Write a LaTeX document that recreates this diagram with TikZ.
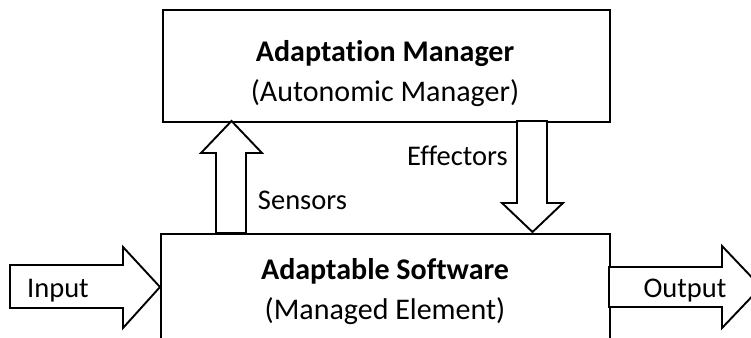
\documentclass[tikz,border=0pt]{standalone}
\usepackage{fontspec}
\setmainfont{Carlito}[Ligatures=NoCommon]
\usetikzlibrary{positioning}

\begin{document}
\begin{tikzpicture}[
    x=1pt,y=-1pt,
    every node/.style={font=\fontsize{30}{36}\selectfont,inner sep=0pt},
    box/.style={rectangle,draw,line width=1.9pt},
    blockarrow/.style={draw,line width=1.9pt,fill=white,line join=miter},
    lbl/.style={anchor=base,font=\fontsize{28.5}{34}\selectfont}
]
\clip (0,0) rectangle (751,337);

% Boxes (absolute positions, pixel grid)
\node[box,minimum width=447,minimum height=112,anchor=north west] (manager)  at (162,9)   {};
\node[box,minimum width=449,minimum height=150,anchor=north west] (software) at (160,233) {};

% Box texts
\node[anchor=base] (managertitle) at (385,61.5)  {\textbf{Adaptation Manager}};
\node[anchor=base] (managersub)   at (385,101.5) {(Autonomic Manager)};
\node[anchor=base] (softtitle)    at (385,279)   {\textbf{Adaptable Software}};
\node[anchor=base] (softsub)      at (385,319)   {(Managed Element)};

% Block arrows
\draw[blockarrow] (10,265) -- (123,265) -- (123,247) -- (160,287) -- (123,328) -- (123,308) -- (10,308) -- cycle;
\draw[blockarrow] (609,267) -- (722,267) -- (722,246) -- (761,287) -- (722,328) -- (722,307) -- (609,307) -- cycle;
\draw[blockarrow] (216,233) -- (216,153) -- (201,153) -- (231.5,121) -- (262,153) -- (246,153) -- (246,233) -- cycle;
\draw[blockarrow] (517,121) -- (517,203) -- (502,203) -- (532.5,232) -- (563,203) -- (547,203) -- (547,121) -- cycle;

% Arrow labels
\node[lbl] (input)     at (58,297)    {Input};
\node[lbl] (output)    at (685,297)   {Output};
\node[lbl] (sensors)   at (302.5,209) {Sensors};
\node[lbl] (effectors) at (457.5,165) {Effectors};

\end{tikzpicture}
\end{document}
